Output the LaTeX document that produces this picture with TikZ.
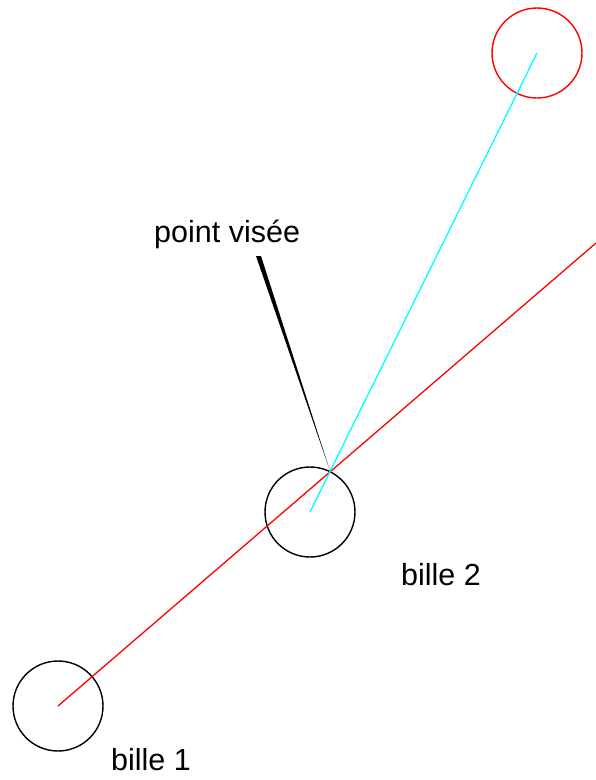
\documentclass[tikz,border=0pt]{standalone}
\usepackage{fontspec}
\setmainfont{Liberation Sans}
\usepackage{tikz}
\definecolor{turquoise}{RGB}{0,255,255}
\definecolor{rouge}{RGB}{255,0,0}
\tikzstyle{bille}=[circle, draw, line width=1.4pt, minimum size=90pt, inner sep=0pt]
\tikzstyle{trajet}=[line width=1.3pt]
\tikzstyle{labelsty}=[font=\fontsize{30.5}{36}\selectfont, anchor=base west, inner sep=0pt]

\begin{document}
\begin{tikzpicture}[x=1pt,y=-1pt]
				\useasboundingbox (0,0) rectangle (596,780);
				\node[bille] (b1) at (58,706) {};
				\node[bille] (b2) at (310,512) {};
				\node[bille,rouge] (cible) at (537,53) {};
				\coordinate (fin) at (596,243);
				\coordinate (vise) at (330,471);
				\coordinate (haut) at (258.5,256);
				
				\draw[trajet,rouge] (b1.center)--(fin);
				\draw[trajet,turquoise] (b2.center)--(cible.center);
				\fill ([xshift=-2.5pt]haut)--([xshift=2.5pt]haut)--(vise)--cycle;
				
				\node[labelsty] (lvise) at (154,242) {point visée};
				\node[labelsty] (lb2) at (401,585) {bille 2};
				\node[labelsty] (lb1) at (111,770) {bille 1};
			\end{tikzpicture}
\end{document}
